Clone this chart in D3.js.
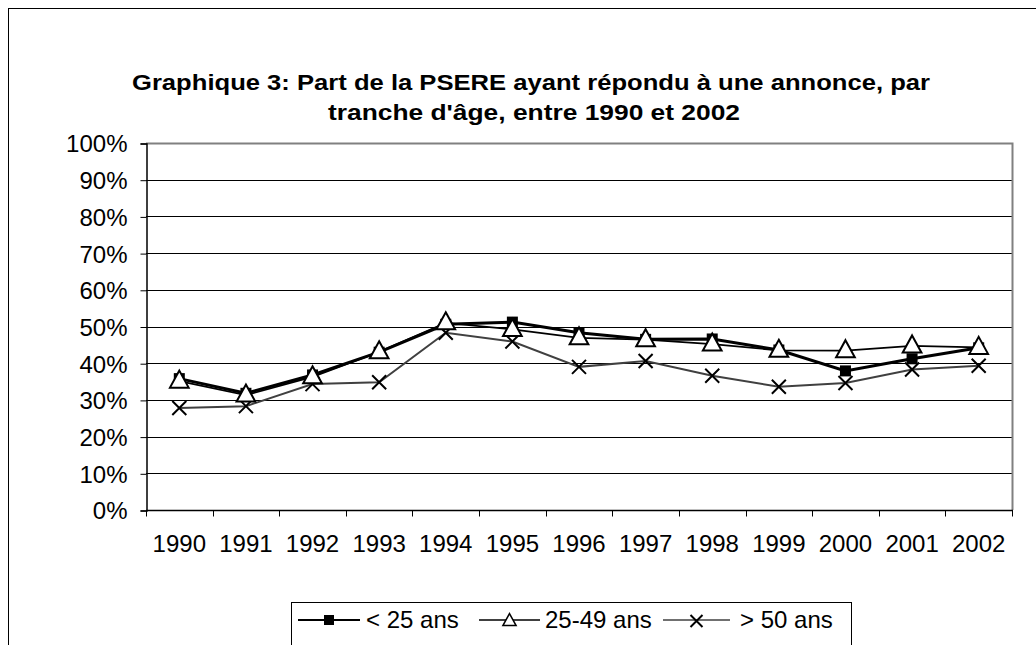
<!DOCTYPE html>
<html><head><meta charset="utf-8">
<script src="https://cdn.jsdelivr.net/npm/d3@7"></script>
<style>body{margin:0;background:#fff}svg{display:block}text{font-family:"Liberation Sans",Arial,sans-serif}</style>
</head><body><svg id="c" width="1036" height="645"></svg>
<script>
const years = ["1990","1991","1992","1993","1994","1995","1996","1997","1998","1999","2000","2001","2002"];
const under25 = [35.8,31.8,36.8,43.0,50.6,51.2,48.3,46.5,46.6,43.6,37.9,41.2,44.2];
const age25to49 = [35.1,31.3,36.3,43.1,51.0,49.2,46.9,46.4,45.2,43.5,43.4,44.7,44.3];
const over50 = [27.8,28.3,34.3,34.8,48.3,45.9,39.0,40.6,36.6,33.6,34.6,38.3,39.3];
const yTicks = [0,10,20,30,40,50,60,70,80,90,100];
const seriesNames = ["< 25 ans","25-49 ans","> 50 ans"];
const titleLines = ["Graphique 3: Part de la PSERE ayant répondu à une annonce, par","tranche d'âge, entre 1990 et 2002"];

const svg = d3.select("#c");
svg.append("rect").attr("x",8.5).attr("y",8.5).attr("width",1040).attr("height",700)
  .attr("fill","#fff").attr("stroke","#000").attr("stroke-width",1);

const L=146, R=1012, T=143, B=510;
const x = d3.scaleBand().domain(years).range([L,R]);
const y = d3.scaleLinear().domain([0,100]).range([B,T]);

// title
svg.append("text").attr("x",531).attr("y",90).attr("text-anchor","middle")
  .attr("font-size",22).attr("font-weight","bold").attr("textLength",798).attr("lengthAdjust","spacingAndGlyphs").text(titleLines[0]);
svg.append("text").attr("x",534).attr("y",120).attr("text-anchor","middle")
  .attr("font-size",22).attr("font-weight","bold").attr("textLength",412).attr("lengthAdjust","spacingAndGlyphs").text(titleLines[1]);

// gridlines
svg.append("g").selectAll("line").data(yTicks.filter(d=>d>0&&d<100)).join("line")
  .attr("x1",L).attr("x2",R).attr("y1",d=>Math.round(y(d))+0.5).attr("y2",d=>Math.round(y(d))+0.5)
  .attr("stroke","#000").attr("stroke-width",1);
// plot frame top/right gray
svg.append("path").attr("d",`M${L},${T+0.5}H${R+0.5}V${B}`).attr("fill","none").attr("stroke","#808080").attr("stroke-width",2);

// y axis
const yAxis = d3.axisLeft(y).tickValues(yTicks).tickFormat(d=>d+"%").tickSize(6).tickPadding(13);
const gy = svg.append("g").attr("transform",`translate(${L+0.5},0.5)`).call(yAxis);
gy.selectAll("text").attr("font-size",24).attr("font-family","Liberation Sans, Arial, sans-serif").attr("fill","#000").attr("dy","0.35em");
gy.select(".domain").attr("stroke","#000").attr("stroke-width",1.5);
gy.selectAll(".tick line").attr("stroke","#000");

// x axis (ticks at band boundaries)
const gx = svg.append("g").attr("transform",`translate(0,${B+0.5})`);
gx.append("line").attr("x1",L).attr("x2",R+1).attr("stroke","#000").attr("stroke-width",1.5);
const bounds = years.map(d=>x(d)).concat([R]);
gx.selectAll("line.tk").data(bounds).join("line").attr("class","tk")
  .attr("x1",d=>Math.round(d)+0.5).attr("x2",d=>Math.round(d)+0.5).attr("y1",0).attr("y2",6).attr("stroke","#000");
gx.selectAll("text").data(years).join("text").attr("x",d=>x(d)+x.bandwidth()/2).attr("y",41)
  .attr("text-anchor","middle").attr("font-size",24).text(d=>d);

const cx = d=>x(d)+x.bandwidth()/2;
const line = d3.line().x((d,i)=>cx(years[i])).y(d=>y(d));

const tri = (s)=>`M0,${-s*0.62}L${s*0.55},${s*0.38}L${-s*0.55},${s*0.38}Z`;
function drawSquare(g,px,py,s){g.append("rect").attr("x",px-s/2).attr("y",py-s/2).attr("width",s).attr("height",s).attr("fill","#000");}
function drawTri(g,px,py,s,sw){g.append("path").attr("d",tri(s)).attr("transform",`translate(${px},${py})`).attr("fill","#fff").attr("stroke","#000").attr("stroke-width",sw);}
function drawX(g,px,py,s,col){g.append("path").attr("d",`M${-s/2},${-s/2}L${s/2},${s/2}M${s/2},${-s/2}L${-s/2},${s/2}`).attr("transform",`translate(${px},${py})`).attr("stroke",col).attr("stroke-width",2).attr("fill","none");}

const gS = svg.append("g");
// >50
gS.append("path").datum(over50).attr("d",line).attr("fill","none").attr("stroke","#404040").attr("stroke-width",2);
over50.forEach((v,i)=>drawX(gS,cx(years[i]),y(v),14,"#000"));
// <25
gS.append("path").datum(under25).attr("d",line).attr("fill","none").attr("stroke","#000").attr("stroke-width",3);
under25.forEach((v,i)=>drawSquare(gS,cx(years[i]),y(v),11));
// 25-49
gS.append("path").datum(age25to49).attr("d",line).attr("fill","none").attr("stroke","#000").attr("stroke-width",1.8);
age25to49.forEach((v,i)=>drawTri(gS,cx(years[i]),y(v),17,2));

// legend
const lg = svg.append("g");
lg.append("rect").attr("x",291.5).attr("y",602.5).attr("width",560).attr("height",60).attr("fill","#fff").attr("stroke","#000").attr("stroke-width",1);
const ly = 620;
const items = [{x0:298,x1:360,tx:366},{x0:479,x1:540,tx:545},{x0:663,x1:730,tx:740}];
lg.append("line").attr("x1",items[0].x0).attr("x2",items[0].x1).attr("y1",ly).attr("y2",ly).attr("stroke","#000").attr("stroke-width",2);
drawSquare(lg,(items[0].x0+items[0].x1)/2,ly,10);
lg.append("line").attr("x1",items[1].x0).attr("x2",items[1].x1).attr("y1",ly).attr("y2",ly).attr("stroke","#000").attr("stroke-width",1.5);
drawTri(lg,(items[1].x0+items[1].x1)/2,ly+1,12,1.5);
lg.append("line").attr("x1",items[2].x0).attr("x2",items[2].x1).attr("y1",ly).attr("y2",ly).attr("stroke","#404040").attr("stroke-width",1.5);
drawX(lg,(items[2].x0+items[2].x1)/2,ly+1,12,"#000");
seriesNames.forEach((n,i)=>lg.append("text").attr("x",items[i].tx).attr("y",ly+8).attr("font-size",24).text(n));
</script></body></html>
